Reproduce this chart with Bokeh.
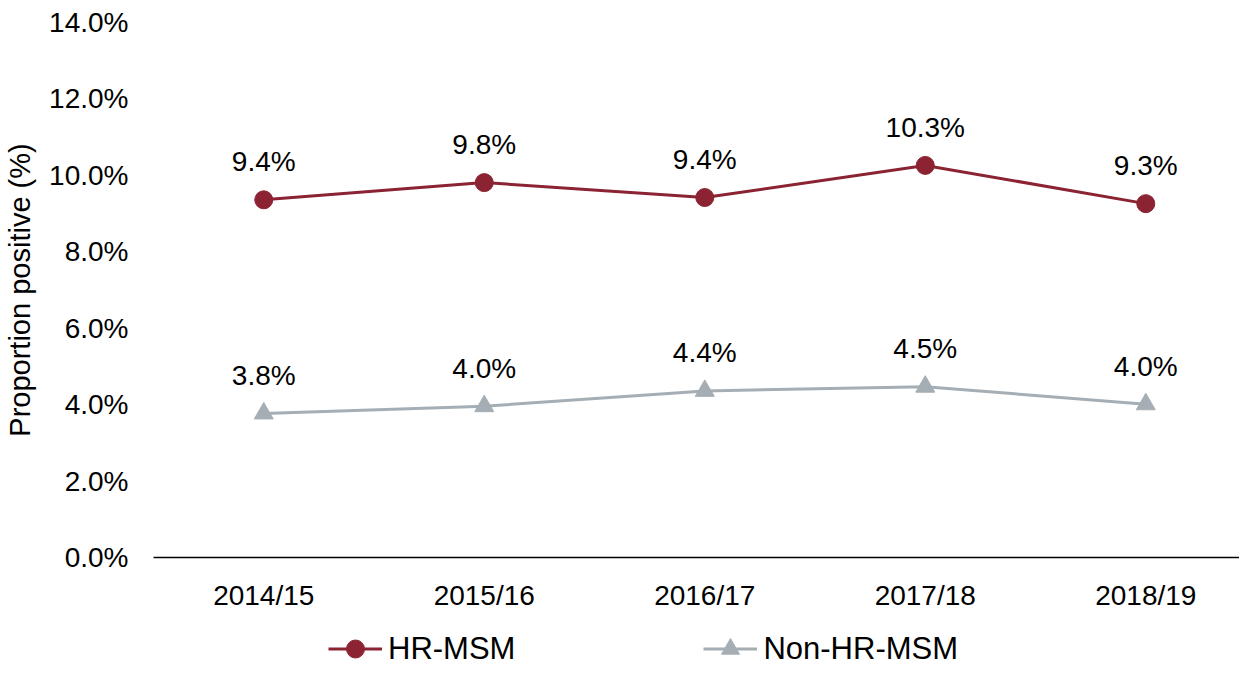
from bokeh.plotting import figure
from bokeh.layouts import column
from bokeh.models import (ColumnDataSource, LabelSet, Legend, LegendItem, FixedTicker,
                          Range1d, CustomJSTickFormatter)
from bokeh.core.properties import value
from bokeh.embed import file_html
from bokeh.resources import INLINE

years = ["2014/15", "2015/16", "2016/17", "2017/18", "2018/19"]
hr_msm = [9.36, 9.81, 9.42, 10.26, 9.26]
non_hr_msm = [3.77, 3.96, 4.36, 4.47, 4.01]
y_ticks = [0, 2, 4, 6, 8, 10, 12, 14]
series_names = ["HR-MSM", "Non-HR-MSM"]

HR_COLOR = "#8B2332"
NON_COLOR = "#A5AEB4"
FONT = "Liberation Sans"

# category slots (centre of each category band)
xpos = [i + 0.5 for i in range(len(years))]

src_hr = ColumnDataSource(dict(x=xpos, y=hr_msm, lab=[f"{v:.1f}%" for v in hr_msm]))
src_non = ColumnDataSource(dict(x=xpos, y=non_hr_msm, lab=[f"{v:.1f}%" for v in non_hr_msm]))

W = 1239
p = figure(width=W, height=620, x_range=Range1d(0, 4.925), y_range=Range1d(0, 14),
           output_backend="svg", toolbar_location=None,
           min_border_left=153, min_border_right=0, min_border_top=22, min_border_bottom=63)
p.outline_line_color = None
p.xgrid.visible = False
p.ygrid.visible = False


def draw_series(fig):
    r = []
    r.append(fig.line("x", "y", source=src_hr, line_color=HR_COLOR, line_width=3))
    r.append(fig.scatter("x", "y", source=src_hr, marker="circle", size=18,
                         fill_color=HR_COLOR, line_color=HR_COLOR))
    r.append(fig.line("x", "y", source=src_non, line_color=NON_COLOR, line_width=3))
    r.append(fig.scatter("x", "y", source=src_non, marker="triangle", size=19,
                         fill_color=NON_COLOR, line_color=NON_COLOR))
    return r


draw_series(p)

for src in (src_hr, src_non):
    p.add_layout(LabelSet(x="x", y="y", text="lab", source=src, text_align="center",
                          text_baseline="middle", y_offset=38, text_font=value(FONT),
                          text_font_size="28px", text_color="#000000"))

# y axis
p.yaxis.ticker = FixedTicker(ticks=y_ticks)
p.yaxis.formatter = CustomJSTickFormatter(code="return tick.toFixed(1) + '%';")
p.yaxis.axis_line_color = None
p.yaxis.major_tick_line_color = None
p.yaxis.minor_tick_line_color = None
p.yaxis.major_label_text_font = FONT
p.yaxis.major_label_text_font_size = "28px"
p.yaxis.major_label_text_color = "#000000"
p.yaxis.major_label_standoff = 19
p.yaxis.axis_label = "Proportion positive (%)"
p.yaxis.axis_label_text_font = FONT
p.yaxis.axis_label_text_font_size = "29px"
p.yaxis.axis_label_text_font_style = "normal"
p.yaxis.axis_label_text_color = "#000000"
p.yaxis.axis_label_standoff = 10

# x axis (category labels)
p.xaxis.ticker = FixedTicker(ticks=xpos)
p.xaxis.formatter = CustomJSTickFormatter(args=dict(labels=years),
                                          code="return labels[Math.floor(tick)];")
p.xaxis.axis_line_color = "#000000"
p.xaxis.axis_line_width = 1.5
p.xaxis.major_tick_line_color = None
p.xaxis.minor_tick_line_color = None
p.xaxis.major_label_text_font = FONT
p.xaxis.major_label_text_font_size = "28px"
p.xaxis.major_label_text_color = "#000000"
p.xaxis.major_label_standoff = 16

# legend strip below the chart (series drawn off-screen so the legend has its glyphs)
pl = figure(width=W, height=48, x_range=Range1d(0, 4.925), y_range=Range1d(100, 101),
            output_backend="svg", toolbar_location=None, x_axis_type=None, y_axis_type=None,
            min_border=0)
pl.outline_line_color = None
pl.xgrid.visible = False
pl.ygrid.visible = False
g = draw_series(pl)

legend = Legend(items=[LegendItem(label=series_names[0], renderers=[g[0], g[1]]),
                       LegendItem(label=series_names[1], renderers=[g[2], g[3]])],
                orientation="horizontal", location=(175, -3),
                label_text_font=FONT, label_text_font_size="31px", label_text_color="#000000",
                glyph_width=54, glyph_height=45, label_standoff=6, spacing=188,
                padding=0, margin=0, border_line_color=None, background_fill_alpha=0)
pl.add_layout(legend, "center")

open("out.html", "w").write(file_html(column(p, pl), INLINE))
